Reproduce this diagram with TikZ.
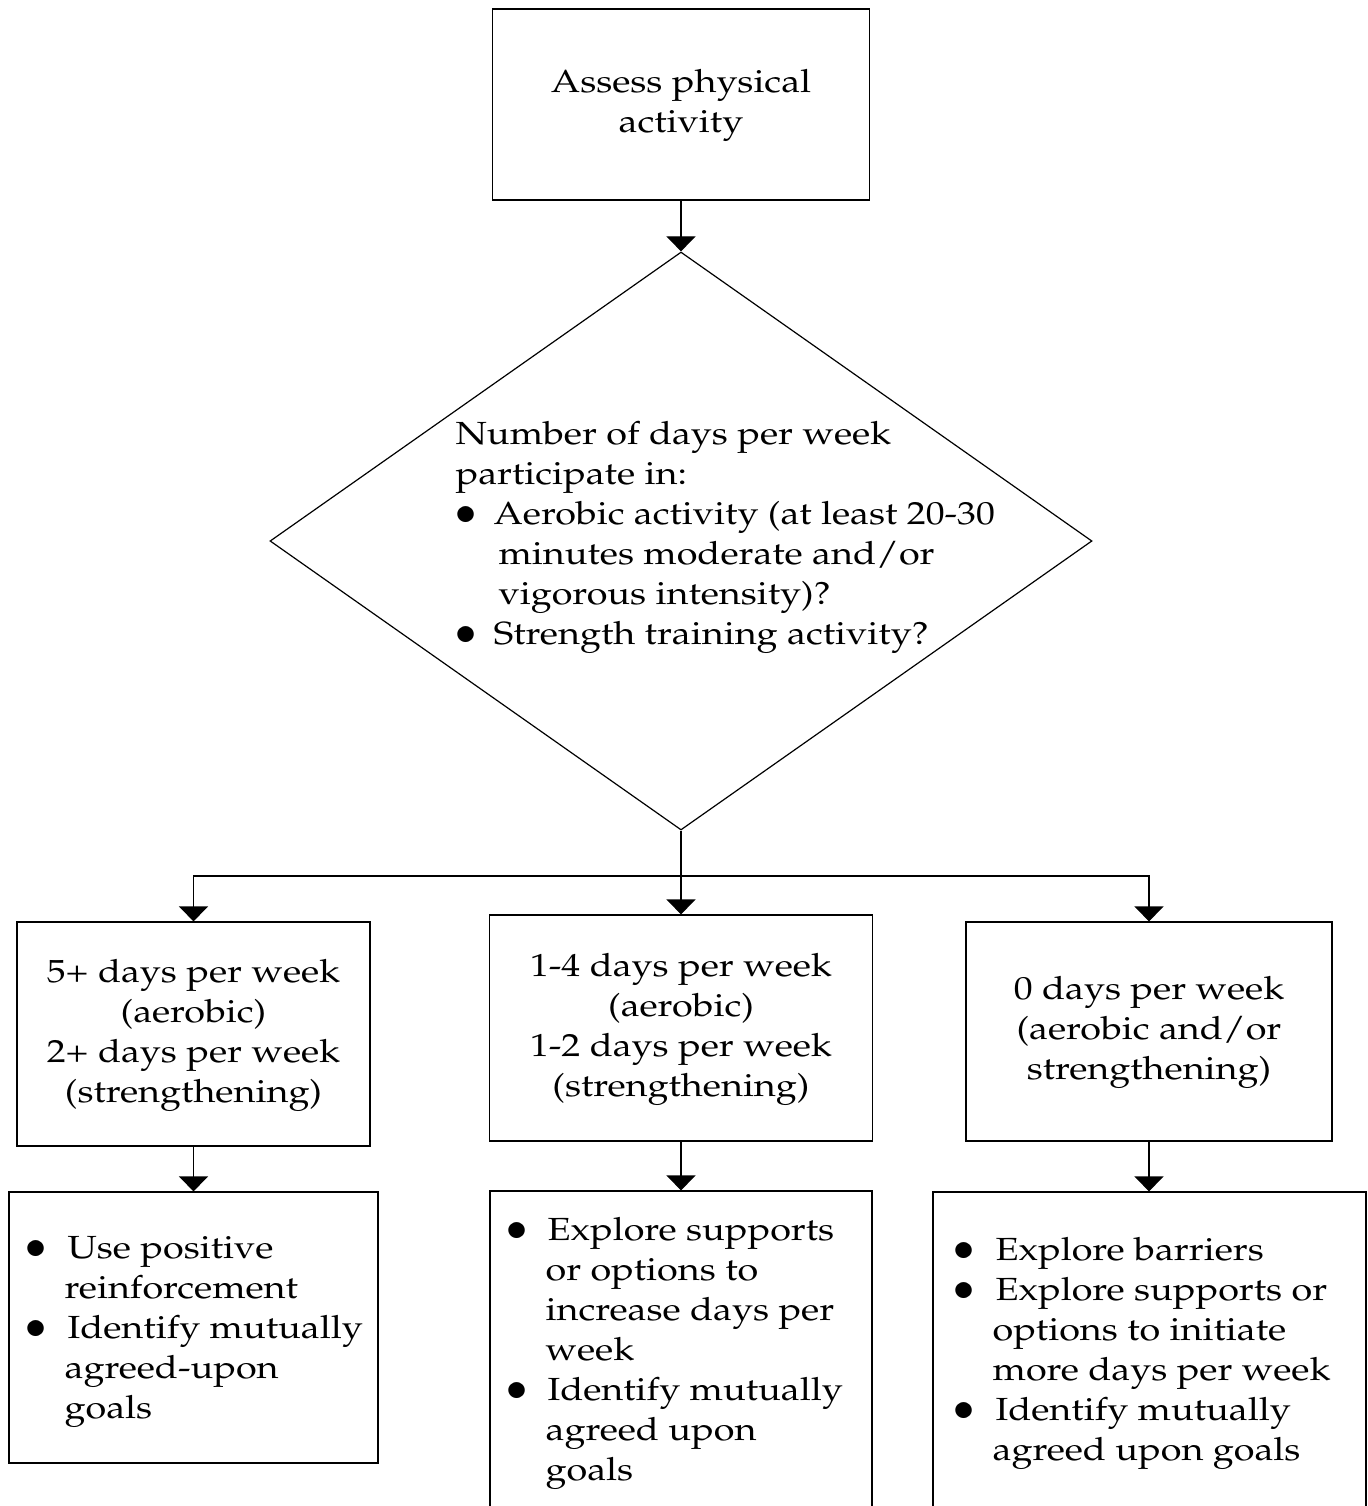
\documentclass[tikz,border=0pt]{standalone}
\usepackage[T1]{fontenc}
\usepackage{graphicx}
\renewcommand{\rmdefault}{ppl}
\usetikzlibrary{shapes.geometric,arrows.meta}
\newcommand{\wide}[2]{\scalebox{1.18}[1]{\begin{tabular}{@{}#1@{}}#2\end{tabular}}}
\newcommand{\blob}{\raisebox{-3pt}[0pt][0pt]{\scalebox{1.27}[1.45]{\textbullet}}}
\newcommand{\bul}[1][16.95pt]{\makebox[#1][l]{\hspace*{-2.5pt}\blob}}
\newcommand{\ind}[1][15.7pt]{\hspace*{#1}}
\newcommand{\flowbox}[5]{
	\node [box, minimum width=#3, minimum height=#4] (#1) at (#2) {#5};}

\begin{document}
\begin{tikzpicture}[x=0.5pt,y=-0.5pt,>={Triangle[width=14.5pt,length=7.5pt]},
	line width=0.6pt,font=\fontsize{16}{20}\selectfont,
	box/.style={draw, rectangle, inner sep=0pt},
	list/.style={anchor=west, inner sep=0pt}]
	\useasboundingbox (0,0) rectangle (1367,1506);
	% question
	\flowbox{assess}{681,104.5}{188.5pt}{95.5pt}{\wide{c}{Assess physical\\ activity}}
	\node [diamond, draw, minimum width=411pt, minimum height=289pt, inner sep=0pt] (days) at (681,541) {};
	\node [list] at (455,536) {\wide{l}{Number of days per week\\ participate in:\\
		\hspace*{0.85pt}\bul[15.25pt]Aerobic activity (at least 20-30\\
		\ind[18.2pt]minutes moderate and/or\\
		\ind[18.2pt]vigorous intensity)?\\
		\hspace*{0.85pt}\bul[15.25pt]Strength training activity?}};
	% answers
	\flowbox{high}{193.5,1034}{176.5pt}{112pt}{\wide{c}{5+ days per week\\ (aerobic)\\ 2+ days per week\\ (strengthening)}}
	\flowbox{some}{681,1028}{191.5pt}{113pt}{\wide{c}{1-4 days per week\\ (aerobic)\\ 1-2 days per week\\ (strengthening)}}
	\flowbox{none}{1149,1031.5}{183pt}{109.5pt}{\wide{c}{0 days per week\\ (aerobic and/or\\ strengthening)}}
	% actions
	\flowbox{highplan}{193.5,1327.5}{184.5pt}{135.5pt}{}
	\flowbox{someplan}{681,1360.5}{191pt}{169.5pt}{}
	\flowbox{noneplan}{1149.5,1361}{216.5pt}{169pt}{}
	\node [list] at (27,1330) {\wide{l}{\bul Use positive\\ \ind reinforcement\\
		\bul Identify mutually\\ \ind agreed-upon\\ \ind goals}};
	\node [list] at (508,1352) {\wide{l}{\bul[16.5pt]Explore supports\\ \ind or options to\\
		\ind increase days per\\ \ind week\\
		\bul[16.5pt]Identify mutually\\ \ind agreed upon\\ \ind goals}};
	\node [list] at (955,1352) {\wide{l}{\bul Explore barriers\\ \bul Explore supports or\\
		\ind options to initiate\\ \ind more days per week\\
		\bul Identify mutually\\ \ind agreed upon goals}};
	% connectors
	\coordinate (split) at (681,876);
	\draw [->] (assess) -- (days);
	\draw (days.south) -- (split);
	\draw [->] (split) -| (high.north);
	\draw [->] (split) -- (some.north);
	\draw [->] (split) -| (none.north);
	\draw [->] (high) -- (highplan);
	\draw [->] (some) -- (someplan);
	\draw [->] (none.south) -- (none.south |- noneplan.north);
\end{tikzpicture}
\end{document}
